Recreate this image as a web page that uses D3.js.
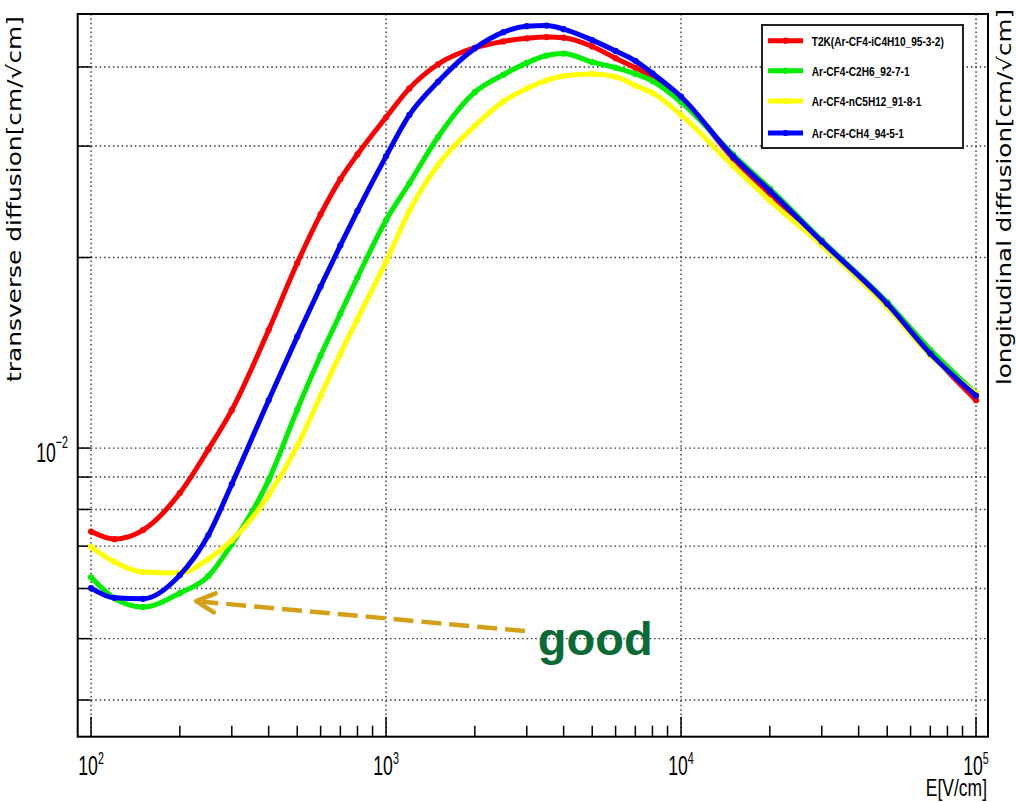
<!DOCTYPE html>
<html><head><meta charset="utf-8">
<script src="https://cdn.jsdelivr.net/npm/d3@7"></script>
<style>body{margin:0;background:#fff}svg{display:block}</style>
</head><body><svg id="c" width="1016" height="802"></svg>
<script>
// ---- data ----
const fieldE = [100,120,150,200,250,300,400,500,600,700,800,1000,1200,1500,2000,2500,3000,3500,4000,5000,6000,7000,8000,10000,15000,20000,30000,50000,70000,100000];
const seriesNames = ["T2K(Ar-CF4-iC4H10_95-3-2)","Ar-CF4-C2H6_92-7-1","Ar-CF4-nC5H12_91-8-1","Ar-CF4-CH4_94-5-1"];
const seriesColors = ["#ff0000","#00ee00","#ffff00","#0000ff"];
const t2k    = [7.38e-3,7.18e-3,7.42e-3,8.49e-3,9.96e-3,1.148e-2,1.536e-2,1.96e-2,2.34e-2,2.66e-2,2.91e-2,3.33e-2,3.70e-2,4.04e-2,4.29e-2,4.39e-2,4.44e-2,4.46e-2,4.45e-2,4.31e-2,4.13e-2,3.99e-2,3.86e-2,3.58e-2,2.87e-2,2.52e-2,2.11e-2,1.68e-2,1.41e-2,1.19e-2];
const c2h6   = [6.25e-3,5.79e-3,5.61e-3,5.90e-3,6.28e-3,7.05e-3,8.90e-3,1.15e-2,1.40e-2,1.63e-2,1.86e-2,2.29e-2,2.62e-2,3.10e-2,3.65e-2,3.89e-2,4.06e-2,4.17e-2,4.20e-2,4.07e-2,3.99e-2,3.90e-2,3.80e-2,3.52e-2,2.91e-2,2.57e-2,2.13e-2,1.70e-2,1.43e-2,1.22e-2];
const nc5h12 = [6.98e-3,6.61e-3,6.37e-3,6.35e-3,6.68e-3,7.15e-3,8.43e-3,1.007e-2,1.21e-2,1.41e-2,1.60e-2,1.97e-2,2.37e-2,2.80e-2,3.23e-2,3.53e-2,3.70e-2,3.81e-2,3.87e-2,3.90e-2,3.86e-2,3.74e-2,3.64e-2,3.36e-2,2.79e-2,2.46e-2,2.09e-2,1.67e-2,1.40e-2,1.22e-2];
const ch4    = [6.01e-3,5.80e-3,5.78e-3,6.30e-3,7.29e-3,8.77e-3,1.19e-2,1.50e-2,1.80e-2,2.09e-2,2.37e-2,2.89e-2,3.36e-2,3.79e-2,4.28e-2,4.54e-2,4.64e-2,4.65e-2,4.59e-2,4.41e-2,4.24e-2,4.09e-2,3.91e-2,3.59e-2,2.89e-2,2.55e-2,2.12e-2,1.69e-2,1.41e-2,1.21e-2];
const seriesValues = [t2k, c2h6, nc5h12, ch4];
const xLabelTicks = [1e2,1e3,1e4,1e5];
const xLabelExp = ["2","3","4","5"];
const yGridTicks = [0.004,0.005,0.006,0.007,0.008,0.009,0.01,0.02,0.03,0.04];
const yLabelTicks = [0.01];
const yLabelExp = ["\u22122"];
const noteText = "good";
const notePos = [3270, 4.71e-3];
const arrowTail = [2958, 5.14e-3];
const arrowTip = [227, 5.73e-3];

// ---- layout ----
const L = 77.7, R = 988, T = 14, B = 736.7;
const x = d3.scaleLog().domain([90.1, 109800]).range([L, R]);
const y = d3.scaleLog().domain([3.5e-3, 4.85e-2]).range([B, T]);
const svg = d3.select("#c");

// grid
const grid = svg.append("g").attr("stroke","#333").attr("stroke-width",1.4).attr("stroke-dasharray","1.5,2.9");
grid.selectAll("line.gy").data(yGridTicks).join("line")
  .attr("x1",L).attr("x2",R).attr("y1",d=>y(d)).attr("y2",d=>y(d));
grid.selectAll("line.gx").data(xLabelTicks).join("line")
  .attr("y1",T).attr("y2",B).attr("x1",d=>x(d)).attr("x2",d=>x(d));

// ticks
const tk = svg.append("g").attr("stroke","#000").attr("stroke-width",1.5);
tk.selectAll("line.yt").data(yGridTicks).join("line")
  .attr("x1",L).attr("x2",L+13).attr("y1",d=>y(d)).attr("y2",d=>y(d));
const minorX = x.ticks().filter(v => !xLabelTicks.includes(v));
tk.selectAll("line.xm").data(minorX).join("line")
  .attr("y1",B).attr("y2",B-11).attr("x1",d=>x(d)).attr("x2",d=>x(d));
tk.selectAll("line.xM").data(xLabelTicks).join("line")
  .attr("y1",B).attr("y2",B-20).attr("x1",d=>x(d)).attr("x2",d=>x(d));

// frame
svg.append("rect").attr("x",L).attr("y",T).attr("width",R-L).attr("height",B-T)
  .attr("fill","none").attr("stroke","#000").attr("stroke-width",2);

// tick labels
const tf = "'Liberation Sans', Arial, sans-serif";
xLabelTicks.forEach((v,i)=>{
  const g = svg.append("g").attr("transform",`translate(${x(v)},775) scale(0.63,1)`);
  const t = g.append("text").attr("text-anchor","middle").attr("font-family",tf).attr("font-size",28).attr("fill","#000");
  t.append("tspan").text("10");
  t.append("tspan").attr("font-size",17).attr("dy",-11).text(xLabelExp[i]);
});
yLabelTicks.forEach((v,i)=>{
  const g = svg.append("g").attr("transform",`translate(68,${y(v)+14}) scale(0.63,1)`);
  const t = g.append("text").attr("text-anchor","end").attr("font-family",tf).attr("font-size",28).attr("fill","#000");
  t.append("tspan").text("10");
  t.append("tspan").attr("font-size",17).attr("dy",-14).text(yLabelExp[i]);
});
svg.append("g").attr("transform","translate(987,796) scale(0.76,1)")
  .append("text").attr("text-anchor","end").attr("font-family",tf).attr("font-size",23).text("E[V/cm]");

// axis titles
svg.append("text").attr("transform","translate(21,199) rotate(-90)").attr("text-anchor","middle")
  .attr("font-family","'DejaVu Sans', sans-serif").attr("font-size",20)
  .attr("textLength",366).attr("lengthAdjust","spacingAndGlyphs")
  .text("transverse diffusion[cm/\u221Acm]");
svg.append("text").attr("transform","translate(1011,197) rotate(-90)").attr("text-anchor","middle")
  .attr("font-family","'DejaVu Sans', sans-serif").attr("font-size",19)
  .attr("textLength",376).attr("lengthAdjust","spacingAndGlyphs")
  .text("longitudinal diffusion[cm/\u221Acm]");

// curves
svg.append("clipPath").attr("id","pc").append("rect").attr("x",L).attr("y",T).attr("width",R-L).attr("height",B-T);
const line = d3.line().x(d=>x(d[0])).y(d=>y(d[1])).curve(d3.curveMonotoneX);
const plot = svg.append("g").attr("clip-path","url(#pc)");
seriesValues.forEach((vals,i)=>{
  const pts = fieldE.map((e,j)=>[e, vals[j]]);
  plot.append("path").attr("d",line(pts)).attr("fill","none")
    .attr("stroke",seriesColors[i]).attr("stroke-width",5).attr("stroke-linejoin","round").attr("stroke-linecap","round");
  plot.selectAll(null).data(pts).join("circle")
    .attr("cx",d=>x(d[0])).attr("cy",d=>y(d[1])).attr("r",3.1).attr("fill",seriesColors[i]);
});

// legend
const lg = svg.append("g");
lg.append("rect").attr("x",762).attr("y",25).attr("width",201).attr("height",123)
  .attr("fill","#fff").attr("stroke","#222").attr("stroke-width",2);
const legY = [40.7, 70.7, 101, 133];
seriesNames.forEach((n,i)=>{
  lg.append("line").attr("x1",768).attr("x2",803).attr("y1",legY[i]).attr("y2",legY[i])
    .attr("stroke",seriesColors[i]).attr("stroke-width",5);
  lg.append("circle").attr("cx",785.5).attr("cy",legY[i]).attr("r",3.1).attr("fill",seriesColors[i]);
  lg.append("g").attr("transform",`translate(811.7,${legY[i]+5}) scale(0.75,1)`)
    .append("text").attr("font-family",tf).attr("font-weight","bold").attr("font-size",13.5).text(n);
});

// annotation arrow
const ac = "#d4a017";
const tx = x(arrowTip[0]), ty = y(arrowTip[1]), sx = x(arrowTail[0]), sy = y(arrowTail[1]);
svg.append("line").attr("x1",sx).attr("y1",sy).attr("x2",tx+6).attr("y2",ty+0.5)
  .attr("stroke",ac).attr("stroke-width",4.5).attr("stroke-dasharray","20,8");
const ang = Math.atan2(sy-ty, sx-tx), al = 21, spread = 27*Math.PI/180;
svg.append("polyline").attr("points",[
  [tx+al*Math.cos(ang-spread), ty+al*Math.sin(ang-spread)],
  [tx,ty],
  [tx+al*Math.cos(ang+spread), ty+al*Math.sin(ang+spread)]].map(p=>p.join(",")).join(" "))
  .attr("fill","none").attr("stroke",ac).attr("stroke-width",4.5).attr("stroke-linecap","round").attr("stroke-linejoin","round");
svg.append("text").attr("x",x(notePos[0])).attr("y",y(notePos[1]))
  .attr("font-family",tf).attr("font-weight","bold").attr("font-size",47).attr("fill","#0a6a36").text(noteText);
</script></body></html>
